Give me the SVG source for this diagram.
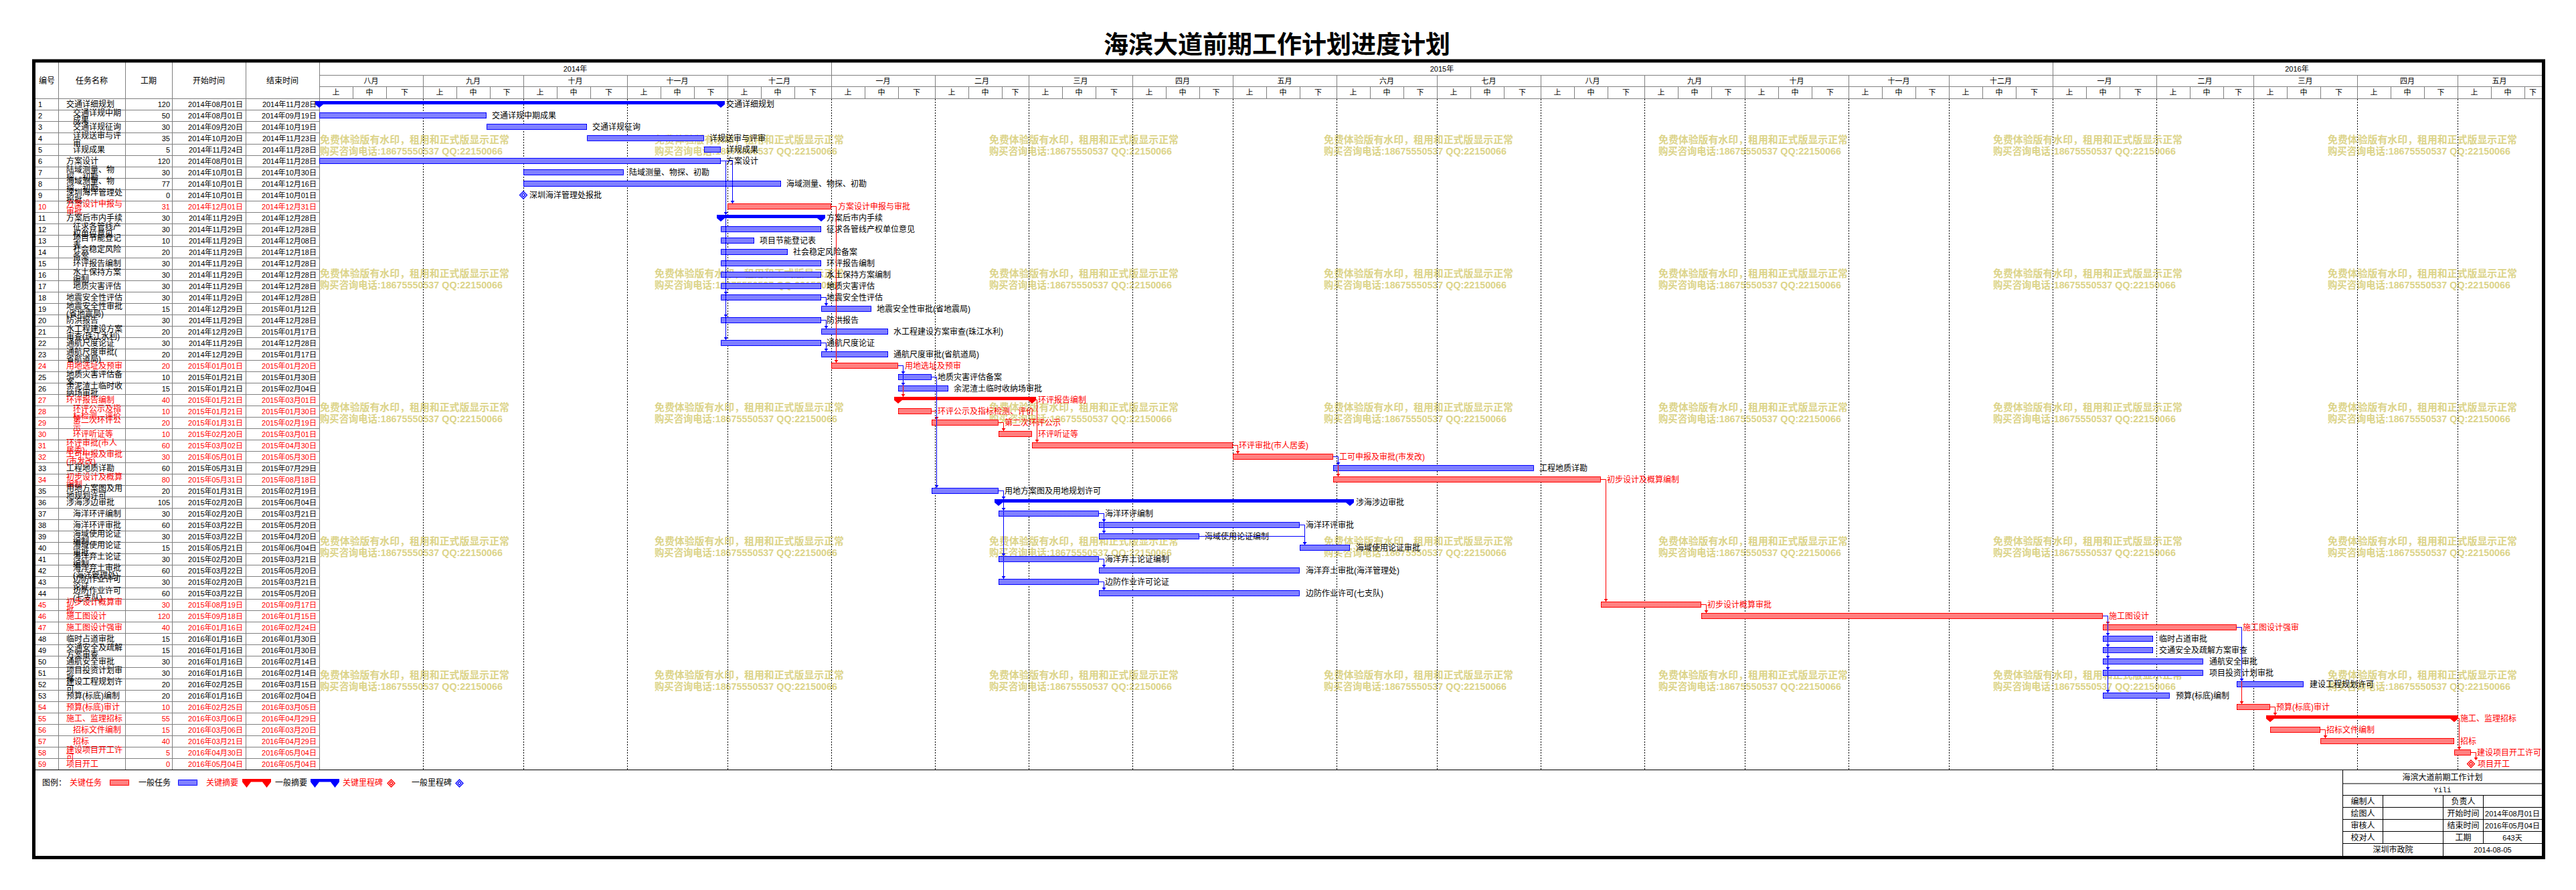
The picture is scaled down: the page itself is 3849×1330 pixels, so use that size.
<svg xmlns="http://www.w3.org/2000/svg" xmlns:xlink="http://www.w3.org/1999/xlink" width="3849" height="1330" viewBox="0 0 3849 1330">
<style>
text{font-family:'Liberation Sans','Noto Sans CJK SC',sans-serif;fill:#000;font-size:11px}
.m{font-size:12px}
.e{text-anchor:end}
.c{text-anchor:middle}
.r text{fill:#f00}
text.rd{fill:#f00}
.g{stroke:#808080;stroke-width:1;fill:none}
.k{stroke:#000;stroke-width:1;fill:none}
.dot{stroke:#000;stroke-width:1;stroke-dasharray:2 2;fill:none}
.bb{fill:url(#hb);stroke:#00f;stroke-width:1}
.rb{fill:url(#hr);stroke:#f00;stroke-width:1}
.sb{fill:#00f}
.sr{fill:#f00}
.mb{fill:#fff;stroke:#00f;stroke-width:1.3}
.mr{fill:#fff;stroke:#f00;stroke-width:1.3}
.lb{fill:none;stroke:#00f;stroke-width:1;marker-end:url(#ab)}
.lr{fill:none;stroke:#f00;stroke-width:1;marker-end:url(#ar)}
.wm{font-size:15px;font-weight:bold;fill:#DCD48A}
</style>
<defs>
<pattern id="hb" width="2" height="2" patternUnits="userSpaceOnUse"><rect width="2" height="2" fill="#fff"/><rect width="1" height="1" fill="#00f"/><rect x="1" y="1" width="1" height="1" fill="#00f"/></pattern>
<pattern id="hr" width="2" height="2" patternUnits="userSpaceOnUse"><rect width="2" height="2" fill="#fff"/><rect width="1" height="1" fill="#f00"/><rect x="1" y="1" width="1" height="1" fill="#f00"/></pattern>
<marker id="ab" viewBox="0 0 4 6" refX="4" refY="3" markerWidth="4" markerHeight="6" markerUnits="userSpaceOnUse" orient="auto"><path d="M0 0L4 3L0 6Z" fill="#00f"/></marker>
<marker id="ar" viewBox="0 0 4 6" refX="4" refY="3" markerWidth="4" markerHeight="6" markerUnits="userSpaceOnUse" orient="auto"><path d="M0 0L4 3L0 6Z" fill="#f00"/></marker>
<g id="wmk"><text class="wm" x="0" y="6" textLength="283" lengthAdjust="spacingAndGlyphs">免费体验版有水印，租用和正式版显示正常</text><text class="wm" x="0" y="22.5" textLength="273" lengthAdjust="spacingAndGlyphs">购买咨询电话:18675550537 QQ:22150066</text></g>
</defs>
<rect width="3849" height="1330" fill="#fff"/>
<g id="title"><text x="1908" y="80" class="c" style="font-size:37px;font-weight:bold">海滨大道前期工作计划进度计划</text></g>
<g id="watermark">
<use xlink:href="#wmk" x="478" y="208"/><use xlink:href="#wmk" x="978" y="208"/><use xlink:href="#wmk" x="1478" y="208"/><use xlink:href="#wmk" x="1978" y="208"/><use xlink:href="#wmk" x="2478" y="208"/><use xlink:href="#wmk" x="2978" y="208"/><use xlink:href="#wmk" x="3478" y="208"/>
<use xlink:href="#wmk" x="478" y="408"/><use xlink:href="#wmk" x="978" y="408"/><use xlink:href="#wmk" x="1478" y="408"/><use xlink:href="#wmk" x="1978" y="408"/><use xlink:href="#wmk" x="2478" y="408"/><use xlink:href="#wmk" x="2978" y="408"/><use xlink:href="#wmk" x="3478" y="408"/>
<use xlink:href="#wmk" x="478" y="608"/><use xlink:href="#wmk" x="978" y="608"/><use xlink:href="#wmk" x="1478" y="608"/><use xlink:href="#wmk" x="1978" y="608"/><use xlink:href="#wmk" x="2478" y="608"/><use xlink:href="#wmk" x="2978" y="608"/><use xlink:href="#wmk" x="3478" y="608"/>
<use xlink:href="#wmk" x="478" y="808"/><use xlink:href="#wmk" x="978" y="808"/><use xlink:href="#wmk" x="1478" y="808"/><use xlink:href="#wmk" x="1978" y="808"/><use xlink:href="#wmk" x="2478" y="808"/><use xlink:href="#wmk" x="2978" y="808"/><use xlink:href="#wmk" x="3478" y="808"/>
<use xlink:href="#wmk" x="478" y="1008"/><use xlink:href="#wmk" x="978" y="1008"/><use xlink:href="#wmk" x="1478" y="1008"/><use xlink:href="#wmk" x="1978" y="1008"/><use xlink:href="#wmk" x="2478" y="1008"/><use xlink:href="#wmk" x="2978" y="1008"/><use xlink:href="#wmk" x="3478" y="1008"/>
</g>
<g id="grid">
<path class="g" d="M53 164.5H477M53 181.5H477M53 198.5H477M53 215.5H477M53 232.5H477M53 249.5H477M53 266.5H477M53 283.5H477M53 300.5H477M53 317.5H477M53 334.5H477M53 351.5H477M53 368.5H477M53 385.5H477M53 402.5H477M53 419.5H477M53 436.5H477M53 453.5H477M53 470.5H477M53 487.5H477M53 504.5H477M53 521.5H477M53 538.5H477M53 555.5H477M53 572.5H477M53 589.5H477M53 606.5H477M53 623.5H477M53 640.5H477M53 657.5H477M53 674.5H477M53 691.5H477M53 708.5H477M53 725.5H477M53 742.5H477M53 759.5H477M53 776.5H477M53 793.5H477M53 810.5H477M53 827.5H477M53 844.5H477M53 861.5H477M53 878.5H477M53 895.5H477M53 912.5H477M53 929.5H477M53 946.5H477M53 963.5H477M53 980.5H477M53 997.5H477M53 1014.5H477M53 1031.5H477M53 1048.5H477M53 1065.5H477M53 1082.5H477M53 1099.5H477M53 1116.5H477M53 1133.5H477"/>
<path class="g" d="M87.5 93V1150M187.5 93V1150M257.5 93V1150M367.5 93V1150M477.5 93V1150M53 147.5H3798M477 112.5H3798M477 129.5H3798"/>
<path class="g" d="M1242.5 93V147M3067.5 93V147M632.5 112V147M782.5 112V147M937.5 112V147M1087.5 112V147M1397.5 112V147M1537.5 112V147M1692.5 112V147M1842.5 112V147M1997.5 112V147M2147.5 112V147M2302.5 112V147M2457.5 112V147M2607.5 112V147M2762.5 112V147M2912.5 112V147M3222.5 112V147M3367.5 112V147M3522.5 112V147M3672.5 112V147"/>
<path class="g" d="M527.5 129V147M577.5 129V147M682.5 129V147M732.5 129V147M832.5 129V147M882.5 129V147M987.5 129V147M1037.5 129V147M1137.5 129V147M1187.5 129V147M1292.5 129V147M1342.5 129V147M1447.5 129V147M1497.5 129V147M1587.5 129V147M1637.5 129V147M1742.5 129V147M1792.5 129V147M1892.5 129V147M1942.5 129V147M2047.5 129V147M2097.5 129V147M2197.5 129V147M2247.5 129V147M2352.5 129V147M2402.5 129V147M2507.5 129V147M2557.5 129V147M2657.5 129V147M2707.5 129V147M2812.5 129V147M2862.5 129V147M2962.5 129V147M3012.5 129V147M3117.5 129V147M3167.5 129V147M3272.5 129V147M3322.5 129V147M3417.5 129V147M3467.5 129V147M3572.5 129V147M3622.5 129V147M3722.5 129V147M3772.5 129V147"/>
<path class="dot" d="M632.5 148V1150M782.5 148V1150M937.5 148V1150M1087.5 148V1150M1242.5 148V1150M1397.5 148V1150M1537.5 148V1150M1692.5 148V1150M1842.5 148V1150M1997.5 148V1150M2147.5 148V1150M2302.5 148V1150M2457.5 148V1150M2607.5 148V1150M2762.5 148V1150M2912.5 148V1150M3067.5 148V1150M3222.5 148V1150M3367.5 148V1150M3522.5 148V1150M3672.5 148V1150"/>
<path class="k" d="M53 1150.5H3798"/>
</g>
<g id="table-header">
<text class="m c" x="70" y="124.5">编号</text><text class="m c" x="137" y="124.5">任务名称</text><text class="m c" x="222" y="124.5">工期</text><text class="m c" x="312" y="124.5">开始时间</text><text class="m c" x="422" y="124.5">结束时间</text>
</g>
<g id="timescale" class="c">
<text class="c" x="859.5" y="106.5">2014年</text><text class="c" x="2154.5" y="106.5">2015年</text><text class="c" x="3432" y="106.5">2016年</text>
<text class="c" x="554.5" y="124.5">八月</text><text class="c" x="707" y="124.5">九月</text><text class="c" x="859.5" y="124.5">十月</text><text class="c" x="1012" y="124.5">十一月</text><text class="c" x="1164.5" y="124.5">十二月</text><text class="c" x="1319.5" y="124.5">一月</text><text class="c" x="1467" y="124.5">二月</text><text class="c" x="1614.5" y="124.5">三月</text><text class="c" x="1767" y="124.5">四月</text><text class="c" x="1919.5" y="124.5">五月</text><text class="c" x="2072" y="124.5">六月</text><text class="c" x="2224.5" y="124.5">七月</text><text class="c" x="2379.5" y="124.5">八月</text><text class="c" x="2532" y="124.5">九月</text><text class="c" x="2684.5" y="124.5">十月</text><text class="c" x="2837" y="124.5">十一月</text><text class="c" x="2989.5" y="124.5">十二月</text><text class="c" x="3144.5" y="124.5">一月</text><text class="c" x="3294.5" y="124.5">二月</text><text class="c" x="3444.5" y="124.5">三月</text><text class="c" x="3597" y="124.5">四月</text><text class="c" x="3734.5" y="124.5">五月</text>
<text class="c" x="502" y="142">上</text><text class="c" x="552" y="142">中</text><text class="c" x="604.5" y="142">下</text>
<text class="c" x="657" y="142">上</text><text class="c" x="707" y="142">中</text><text class="c" x="757" y="142">下</text>
<text class="c" x="807" y="142">上</text><text class="c" x="857" y="142">中</text><text class="c" x="909.5" y="142">下</text>
<text class="c" x="962" y="142">上</text><text class="c" x="1012" y="142">中</text><text class="c" x="1062" y="142">下</text>
<text class="c" x="1112" y="142">上</text><text class="c" x="1162" y="142">中</text><text class="c" x="1214.5" y="142">下</text>
<text class="c" x="1267" y="142">上</text><text class="c" x="1317" y="142">中</text><text class="c" x="1369.5" y="142">下</text>
<text class="c" x="1422" y="142">上</text><text class="c" x="1472" y="142">中</text><text class="c" x="1517" y="142">下</text>
<text class="c" x="1562" y="142">上</text><text class="c" x="1612" y="142">中</text><text class="c" x="1664.5" y="142">下</text>
<text class="c" x="1717" y="142">上</text><text class="c" x="1767" y="142">中</text><text class="c" x="1817" y="142">下</text>
<text class="c" x="1867" y="142">上</text><text class="c" x="1917" y="142">中</text><text class="c" x="1969.5" y="142">下</text>
<text class="c" x="2022" y="142">上</text><text class="c" x="2072" y="142">中</text><text class="c" x="2122" y="142">下</text>
<text class="c" x="2172" y="142">上</text><text class="c" x="2222" y="142">中</text><text class="c" x="2274.5" y="142">下</text>
<text class="c" x="2327" y="142">上</text><text class="c" x="2377" y="142">中</text><text class="c" x="2429.5" y="142">下</text>
<text class="c" x="2482" y="142">上</text><text class="c" x="2532" y="142">中</text><text class="c" x="2582" y="142">下</text>
<text class="c" x="2632" y="142">上</text><text class="c" x="2682" y="142">中</text><text class="c" x="2734.5" y="142">下</text>
<text class="c" x="2787" y="142">上</text><text class="c" x="2837" y="142">中</text><text class="c" x="2887" y="142">下</text>
<text class="c" x="2937" y="142">上</text><text class="c" x="2987" y="142">中</text><text class="c" x="3039.5" y="142">下</text>
<text class="c" x="3092" y="142">上</text><text class="c" x="3142" y="142">中</text><text class="c" x="3194.5" y="142">下</text>
<text class="c" x="3247" y="142">上</text><text class="c" x="3297" y="142">中</text><text class="c" x="3344.5" y="142">下</text>
<text class="c" x="3392" y="142">上</text><text class="c" x="3442" y="142">中</text><text class="c" x="3494.5" y="142">下</text>
<text class="c" x="3547" y="142">上</text><text class="c" x="3597" y="142">中</text><text class="c" x="3647" y="142">下</text>
<text class="c" x="3697" y="142">上</text><text class="c" x="3747" y="142">中</text><text class="c" x="3784.5" y="142">下</text>
</g>
<g id="tasks">
<g id="task-1" transform="translate(0,147)"><text x="57" y="12.8">1</text><text class="m" x="99" y="13">交通详细规划</text><text class="e" x="254" y="12.8">120</text><text class="e" x="363" y="12.8">2014年08月01日</text><text class="e" x="473" y="12.8">2014年11月28日</text><path class="sb" d="M471 4H1083V9L1077 14L1071 9H483L477 14L471 9Z"/><text class="m" x="1085" y="13">交通详细规划</text></g>
<g id="task-2" transform="translate(0,164)"><text x="57" y="12.8">2</text><text class="m" x="109" y="8.5">交通详规中期</text><text class="m" x="109" y="20">成果</text><text class="e" x="254" y="12.8">50</text><text class="e" x="363" y="12.8">2014年08月01日</text><text class="e" x="473" y="12.8">2014年09月19日</text><rect class="bb" x="477.5" y="4.5" width="249" height="8"/><text class="m" x="735" y="13">交通详规中期成果</text></g>
<g id="task-3" transform="translate(0,181)"><text x="57" y="12.8">3</text><text class="m" x="109" y="13">交通详规征询</text><text class="e" x="254" y="12.8">30</text><text class="e" x="363" y="12.8">2014年09月20日</text><text class="e" x="473" y="12.8">2014年10月19日</text><rect class="bb" x="727.5" y="4.5" width="149" height="8"/><text class="m" x="885" y="13">交通详规征询</text></g>
<g id="task-4" transform="translate(0,198)"><text x="57" y="12.8">4</text><text class="m" x="109" y="8.5">详规送审与评</text><text class="m" x="109" y="20">审</text><text class="e" x="254" y="12.8">35</text><text class="e" x="363" y="12.8">2014年10月20日</text><text class="e" x="473" y="12.8">2014年11月23日</text><rect class="bb" x="877.5" y="4.5" width="174" height="8"/><text class="m" x="1060" y="13">详规送审与评审</text></g>
<g id="task-5" transform="translate(0,215)"><text x="57" y="12.8">5</text><text class="m" x="109" y="13">详规成果</text><text class="e" x="254" y="12.8">5</text><text class="e" x="363" y="12.8">2014年11月24日</text><text class="e" x="473" y="12.8">2014年11月28日</text><rect class="bb" x="1052.5" y="4.5" width="24" height="8"/><text class="m" x="1085" y="13">详规成果</text></g>
<g id="task-6" transform="translate(0,232)"><text x="57" y="12.8">6</text><text class="m" x="99" y="13">方案设计</text><text class="e" x="254" y="12.8">120</text><text class="e" x="363" y="12.8">2014年08月01日</text><text class="e" x="473" y="12.8">2014年11月28日</text><rect class="bb" x="477.5" y="4.5" width="599" height="8"/><text class="m" x="1085" y="13">方案设计</text></g>
<g id="task-7" transform="translate(0,249)"><text x="57" y="12.8">7</text><text class="m" x="99" y="8.5">陆域测量、物</text><text class="m" x="99" y="20">探、初勘</text><text class="e" x="254" y="12.8">30</text><text class="e" x="363" y="12.8">2014年10月01日</text><text class="e" x="473" y="12.8">2014年10月30日</text><rect class="bb" x="782.5" y="4.5" width="149" height="8"/><text class="m" x="940" y="13">陆域测量、物探、初勘</text></g>
<g id="task-8" transform="translate(0,266)"><text x="57" y="12.8">8</text><text class="m" x="99" y="8.5">海域测量、物</text><text class="m" x="99" y="20">探、初勘</text><text class="e" x="254" y="12.8">77</text><text class="e" x="363" y="12.8">2014年10月01日</text><text class="e" x="473" y="12.8">2014年12月16日</text><rect class="bb" x="782.5" y="4.5" width="384" height="8"/><text class="m" x="1175" y="13">海域测量、物探、初勘</text></g>
<g id="task-9" transform="translate(0,283)"><text x="57" y="12.8">9</text><text class="m" x="99" y="8.5">深圳海洋管理处</text><text class="m" x="99" y="20">报批</text><text class="e" x="254" y="12.8">0</text><text class="e" x="363" y="12.8">2014年10月01日</text><text class="e" x="473" y="12.8">2014年10月01日</text><path class="mb" d="M782 3L787.5 8.5L782 14L776.5 8.5Z"/><path class="mb" d="M782 6L784.5 8.5L782 11L779.5 8.5Z"/><text class="m" x="791" y="13">深圳海洋管理处报批</text></g>
<g id="task-10" class="r" transform="translate(0,300)"><text x="57" y="12.8">10</text><text class="m" x="99" y="8.5">方案设计申报与</text><text class="m" x="99" y="20">审批</text><text class="e" x="254" y="12.8">31</text><text class="e" x="363" y="12.8">2014年12月01日</text><text class="e" x="473" y="12.8">2014年12月31日</text><rect class="rb" x="1087.5" y="4.5" width="154" height="8"/><text class="m" x="1252" y="13">方案设计申报与审批</text></g>
<g id="task-11" transform="translate(0,317)"><text x="57" y="12.8">11</text><text class="m" x="99" y="13">方案后市内手续</text><text class="e" x="254" y="12.8">30</text><text class="e" x="363" y="12.8">2014年11月29日</text><text class="e" x="473" y="12.8">2014年12月28日</text><path class="sb" d="M1071 4H1233V9L1227 14L1221 9H1083L1077 14L1071 9Z"/><text class="m" x="1235" y="13">方案后市内手续</text></g>
<g id="task-12" transform="translate(0,334)"><text x="57" y="12.8">12</text><text class="m" x="109" y="8.5">征求各管线产</text><text class="m" x="109" y="20">权单位意见</text><text class="e" x="254" y="12.8">30</text><text class="e" x="363" y="12.8">2014年11月29日</text><text class="e" x="473" y="12.8">2014年12月28日</text><rect class="bb" x="1077.5" y="4.5" width="149" height="8"/><text class="m" x="1235" y="13">征求各管线产权单位意见</text></g>
<g id="task-13" transform="translate(0,351)"><text x="57" y="12.8">13</text><text class="m" x="109" y="8.5">项目节能登记</text><text class="m" x="109" y="20">表</text><text class="e" x="254" y="12.8">10</text><text class="e" x="363" y="12.8">2014年11月29日</text><text class="e" x="473" y="12.8">2014年12月08日</text><rect class="bb" x="1077.5" y="4.5" width="49" height="8"/><text class="m" x="1135" y="13">项目节能登记表</text></g>
<g id="task-14" transform="translate(0,368)"><text x="57" y="12.8">14</text><text class="m" x="109" y="8.5">社会稳定风险</text><text class="m" x="109" y="20">备案</text><text class="e" x="254" y="12.8">20</text><text class="e" x="363" y="12.8">2014年11月29日</text><text class="e" x="473" y="12.8">2014年12月18日</text><rect class="bb" x="1077.5" y="4.5" width="99" height="8"/><text class="m" x="1185" y="13">社会稳定风险备案</text></g>
<g id="task-15" transform="translate(0,385)"><text x="57" y="12.8">15</text><text class="m" x="109" y="13">环评报告编制</text><text class="e" x="254" y="12.8">30</text><text class="e" x="363" y="12.8">2014年11月29日</text><text class="e" x="473" y="12.8">2014年12月28日</text><rect class="bb" x="1077.5" y="4.5" width="149" height="8"/><text class="m" x="1235" y="13">环评报告编制</text></g>
<g id="task-16" transform="translate(0,402)"><text x="57" y="12.8">16</text><text class="m" x="109" y="8.5">水土保持方案</text><text class="m" x="109" y="20">编制</text><text class="e" x="254" y="12.8">30</text><text class="e" x="363" y="12.8">2014年11月29日</text><text class="e" x="473" y="12.8">2014年12月28日</text><rect class="bb" x="1077.5" y="4.5" width="149" height="8"/><text class="m" x="1235" y="13">水土保持方案编制</text></g>
<g id="task-17" transform="translate(0,419)"><text x="57" y="12.8">17</text><text class="m" x="109" y="13">地质灾害评估</text><text class="e" x="254" y="12.8">30</text><text class="e" x="363" y="12.8">2014年11月29日</text><text class="e" x="473" y="12.8">2014年12月28日</text><rect class="bb" x="1077.5" y="4.5" width="149" height="8"/><text class="m" x="1235" y="13">地质灾害评估</text></g>
<g id="task-18" transform="translate(0,436)"><text x="57" y="12.8">18</text><text class="m" x="99" y="13">地震安全性评估</text><text class="e" x="254" y="12.8">30</text><text class="e" x="363" y="12.8">2014年11月29日</text><text class="e" x="473" y="12.8">2014年12月28日</text><rect class="bb" x="1077.5" y="4.5" width="149" height="8"/><text class="m" x="1235" y="13">地震安全性评估</text></g>
<g id="task-19" transform="translate(0,453)"><text x="57" y="12.8">19</text><text class="m" x="99" y="8.5">地震安全性审批</text><text class="m" x="99" y="20">(省地震局)</text><text class="e" x="254" y="12.8">15</text><text class="e" x="363" y="12.8">2014年12月29日</text><text class="e" x="473" y="12.8">2015年01月12日</text><rect class="bb" x="1227.5" y="4.5" width="74" height="8"/><text class="m" x="1310" y="13">地震安全性审批(省地震局)</text></g>
<g id="task-20" transform="translate(0,470)"><text x="57" y="12.8">20</text><text class="m" x="99" y="13">防洪报告</text><text class="e" x="254" y="12.8">30</text><text class="e" x="363" y="12.8">2014年11月29日</text><text class="e" x="473" y="12.8">2014年12月28日</text><rect class="bb" x="1077.5" y="4.5" width="149" height="8"/><text class="m" x="1235" y="13">防洪报告</text></g>
<g id="task-21" transform="translate(0,487)"><text x="57" y="12.8">21</text><text class="m" x="99" y="8.5">水工程建设方案</text><text class="m" x="99" y="20">审查(珠江水利)</text><text class="e" x="254" y="12.8">20</text><text class="e" x="363" y="12.8">2014年12月29日</text><text class="e" x="473" y="12.8">2015年01月17日</text><rect class="bb" x="1227.5" y="4.5" width="99" height="8"/><text class="m" x="1335" y="13">水工程建设方案审查(珠江水利)</text></g>
<g id="task-22" transform="translate(0,504)"><text x="57" y="12.8">22</text><text class="m" x="99" y="13">通航尺度论证</text><text class="e" x="254" y="12.8">30</text><text class="e" x="363" y="12.8">2014年11月29日</text><text class="e" x="473" y="12.8">2014年12月28日</text><rect class="bb" x="1077.5" y="4.5" width="149" height="8"/><text class="m" x="1235" y="13">通航尺度论证</text></g>
<g id="task-23" transform="translate(0,521)"><text x="57" y="12.8">23</text><text class="m" x="99" y="8.5">通航尺度审批(</text><text class="m" x="99" y="20">省航道局)</text><text class="e" x="254" y="12.8">20</text><text class="e" x="363" y="12.8">2014年12月29日</text><text class="e" x="473" y="12.8">2015年01月17日</text><rect class="bb" x="1227.5" y="4.5" width="99" height="8"/><text class="m" x="1335" y="13">通航尺度审批(省航道局)</text></g>
<g id="task-24" class="r" transform="translate(0,538)"><text x="57" y="12.8">24</text><text class="m" x="99" y="13">用地选址及预审</text><text class="e" x="254" y="12.8">20</text><text class="e" x="363" y="12.8">2015年01月01日</text><text class="e" x="473" y="12.8">2015年01月20日</text><rect class="rb" x="1242.5" y="4.5" width="99" height="8"/><text class="m" x="1352" y="13">用地选址及预审</text></g>
<g id="task-25" transform="translate(0,555)"><text x="57" y="12.8">25</text><text class="m" x="99" y="8.5">地质灾害评估备</text><text class="m" x="99" y="20">案</text><text class="e" x="254" y="12.8">10</text><text class="e" x="363" y="12.8">2015年01月21日</text><text class="e" x="473" y="12.8">2015年01月30日</text><rect class="bb" x="1342.5" y="4.5" width="49" height="8"/><text class="m" x="1401" y="13">地质灾害评估备案</text></g>
<g id="task-26" transform="translate(0,572)"><text x="57" y="12.8">26</text><text class="m" x="99" y="8.5">余泥渣土临时收</text><text class="m" x="99" y="20">纳场审批</text><text class="e" x="254" y="12.8">15</text><text class="e" x="363" y="12.8">2015年01月21日</text><text class="e" x="473" y="12.8">2015年02月04日</text><rect class="bb" x="1342.5" y="4.5" width="74" height="8"/><text class="m" x="1425" y="13">余泥渣土临时收纳场审批</text></g>
<g id="task-27" class="r" transform="translate(0,589)"><text x="57" y="12.8">27</text><text class="m" x="99" y="13">环评报告编制</text><text class="e" x="254" y="12.8">40</text><text class="e" x="363" y="12.8">2015年01月21日</text><text class="e" x="473" y="12.8">2015年03月01日</text><path class="sr" d="M1336 4H1548V9L1542 14L1536 9H1348L1342 14L1336 9Z"/><text class="m" x="1551" y="13">环评报告编制</text></g>
<g id="task-28" class="r" transform="translate(0,606)"><text x="57" y="12.8">28</text><text class="m" x="109" y="8.5">环评公示及指</text><text class="m" x="109" y="20">标检测、评价</text><text class="e" x="254" y="12.8">10</text><text class="e" x="363" y="12.8">2015年01月21日</text><text class="e" x="473" y="12.8">2015年01月30日</text><rect class="rb" x="1342.5" y="4.5" width="49" height="8"/><text class="m" x="1401" y="13">环评公示及指标检测、评价</text></g>
<g id="task-29" class="r" transform="translate(0,623)"><text x="57" y="12.8">29</text><text class="m" x="109" y="8.5">第二次环评公</text><text class="m" x="109" y="20">示</text><text class="e" x="254" y="12.8">20</text><text class="e" x="363" y="12.8">2015年01月31日</text><text class="e" x="473" y="12.8">2015年02月19日</text><rect class="rb" x="1392.5" y="4.5" width="99" height="8"/><text class="m" x="1501" y="13">第二次环评公示</text></g>
<g id="task-30" class="r" transform="translate(0,640)"><text x="57" y="12.8">30</text><text class="m" x="109" y="13">环评听证等</text><text class="e" x="254" y="12.8">10</text><text class="e" x="363" y="12.8">2015年02月20日</text><text class="e" x="473" y="12.8">2015年03月01日</text><rect class="rb" x="1492.5" y="4.5" width="49" height="8"/><text class="m" x="1551" y="13">环评听证等</text></g>
<g id="task-31" class="r" transform="translate(0,657)"><text x="57" y="12.8">31</text><text class="m" x="99" y="8.5">环评审批(市人</text><text class="m" x="99" y="20">居委)</text><text class="e" x="254" y="12.8">60</text><text class="e" x="363" y="12.8">2015年03月02日</text><text class="e" x="473" y="12.8">2015年04月30日</text><rect class="rb" x="1542.5" y="4.5" width="299" height="8"/><text class="m" x="1851" y="13">环评审批(市人居委)</text></g>
<g id="task-32" class="r" transform="translate(0,674)"><text x="57" y="12.8">32</text><text class="m" x="99" y="8.5">工可申报及审批</text><text class="m" x="99" y="20">(市发改)</text><text class="e" x="254" y="12.8">30</text><text class="e" x="363" y="12.8">2015年05月01日</text><text class="e" x="473" y="12.8">2015年05月30日</text><rect class="rb" x="1842.5" y="4.5" width="149" height="8"/><text class="m" x="2001" y="13">工可申报及审批(市发改)</text></g>
<g id="task-33" transform="translate(0,691)"><text x="57" y="12.8">33</text><text class="m" x="99" y="13">工程地质详勘</text><text class="e" x="254" y="12.8">60</text><text class="e" x="363" y="12.8">2015年05月31日</text><text class="e" x="473" y="12.8">2015年07月29日</text><rect class="bb" x="1992.5" y="4.5" width="299" height="8"/><text class="m" x="2300" y="13">工程地质详勘</text></g>
<g id="task-34" class="r" transform="translate(0,708)"><text x="57" y="12.8">34</text><text class="m" x="99" y="8.5">初步设计及概算</text><text class="m" x="99" y="20">编制</text><text class="e" x="254" y="12.8">80</text><text class="e" x="363" y="12.8">2015年05月31日</text><text class="e" x="473" y="12.8">2015年08月18日</text><rect class="rb" x="1992.5" y="4.5" width="399" height="8"/><text class="m" x="2401" y="13">初步设计及概算编制</text></g>
<g id="task-35" transform="translate(0,725)"><text x="57" y="12.8">35</text><text class="m" x="99" y="8.5">用地方案图及用</text><text class="m" x="99" y="20">地规划许可</text><text class="e" x="254" y="12.8">20</text><text class="e" x="363" y="12.8">2015年01月31日</text><text class="e" x="473" y="12.8">2015年02月19日</text><rect class="bb" x="1392.5" y="4.5" width="99" height="8"/><text class="m" x="1501" y="13">用地方案图及用地规划许可</text></g>
<g id="task-36" transform="translate(0,742)"><text x="57" y="12.8">36</text><text class="m" x="99" y="13">涉海涉边审批</text><text class="e" x="254" y="12.8">105</text><text class="e" x="363" y="12.8">2015年02月20日</text><text class="e" x="473" y="12.8">2015年06月04日</text><path class="sb" d="M1486 4H2023V9L2017 14L2011 9H1498L1492 14L1486 9Z"/><text class="m" x="2026" y="13">涉海涉边审批</text></g>
<g id="task-37" transform="translate(0,759)"><text x="57" y="12.8">37</text><text class="m" x="109" y="13">海洋环评编制</text><text class="e" x="254" y="12.8">30</text><text class="e" x="363" y="12.8">2015年02月20日</text><text class="e" x="473" y="12.8">2015年03月21日</text><rect class="bb" x="1492.5" y="4.5" width="149" height="8"/><text class="m" x="1651" y="13">海洋环评编制</text></g>
<g id="task-38" transform="translate(0,776)"><text x="57" y="12.8">38</text><text class="m" x="109" y="13">海洋环评审批</text><text class="e" x="254" y="12.8">60</text><text class="e" x="363" y="12.8">2015年03月22日</text><text class="e" x="473" y="12.8">2015年05月20日</text><rect class="bb" x="1642.5" y="4.5" width="299" height="8"/><text class="m" x="1951" y="13">海洋环评审批</text></g>
<g id="task-39" transform="translate(0,793)"><text x="57" y="12.8">39</text><text class="m" x="109" y="8.5">海域使用论证</text><text class="m" x="109" y="20">编制</text><text class="e" x="254" y="12.8">30</text><text class="e" x="363" y="12.8">2015年03月22日</text><text class="e" x="473" y="12.8">2015年04月20日</text><rect class="bb" x="1642.5" y="4.5" width="149" height="8"/><text class="m" x="1800" y="13">海域使用论证编制</text></g>
<g id="task-40" transform="translate(0,810)"><text x="57" y="12.8">40</text><text class="m" x="109" y="8.5">海域使用论证</text><text class="m" x="109" y="20">审批</text><text class="e" x="254" y="12.8">15</text><text class="e" x="363" y="12.8">2015年05月21日</text><text class="e" x="473" y="12.8">2015年06月04日</text><rect class="bb" x="1942.5" y="4.5" width="74" height="8"/><text class="m" x="2026" y="13">海域使用论证审批</text></g>
<g id="task-41" transform="translate(0,827)"><text x="57" y="12.8">41</text><text class="m" x="109" y="8.5">海洋弃土论证</text><text class="m" x="109" y="20">编制</text><text class="e" x="254" y="12.8">30</text><text class="e" x="363" y="12.8">2015年02月20日</text><text class="e" x="473" y="12.8">2015年03月21日</text><rect class="bb" x="1492.5" y="4.5" width="149" height="8"/><text class="m" x="1651" y="13">海洋弃土论证编制</text></g>
<g id="task-42" transform="translate(0,844)"><text x="57" y="12.8">42</text><text class="m" x="109" y="8.5">海洋弃土审批</text><text class="m" x="109" y="20">(海洋管理处)</text><text class="e" x="254" y="12.8">60</text><text class="e" x="363" y="12.8">2015年03月22日</text><text class="e" x="473" y="12.8">2015年05月20日</text><rect class="bb" x="1642.5" y="4.5" width="299" height="8"/><text class="m" x="1951" y="13">海洋弃土审批(海洋管理处)</text></g>
<g id="task-43" transform="translate(0,861)"><text x="57" y="12.8">43</text><text class="m" x="109" y="8.5">边防作业许可</text><text class="m" x="109" y="20">论证</text><text class="e" x="254" y="12.8">30</text><text class="e" x="363" y="12.8">2015年02月20日</text><text class="e" x="473" y="12.8">2015年03月21日</text><rect class="bb" x="1492.5" y="4.5" width="149" height="8"/><text class="m" x="1651" y="13">边防作业许可论证</text></g>
<g id="task-44" transform="translate(0,878)"><text x="57" y="12.8">44</text><text class="m" x="109" y="8.5">边防作业许可</text><text class="m" x="109" y="20">(七支队)</text><text class="e" x="254" y="12.8">60</text><text class="e" x="363" y="12.8">2015年03月22日</text><text class="e" x="473" y="12.8">2015年05月20日</text><rect class="bb" x="1642.5" y="4.5" width="299" height="8"/><text class="m" x="1951" y="13">边防作业许可(七支队)</text></g>
<g id="task-45" class="r" transform="translate(0,895)"><text x="57" y="12.8">45</text><text class="m" x="99" y="8.5">初步设计概算审</text><text class="m" x="99" y="20">批</text><text class="e" x="254" y="12.8">30</text><text class="e" x="363" y="12.8">2015年08月19日</text><text class="e" x="473" y="12.8">2015年09月17日</text><rect class="rb" x="2392.5" y="4.5" width="149" height="8"/><text class="m" x="2551" y="13">初步设计概算审批</text></g>
<g id="task-46" class="r" transform="translate(0,912)"><text x="57" y="12.8">46</text><text class="m" x="99" y="13">施工图设计</text><text class="e" x="254" y="12.8">120</text><text class="e" x="363" y="12.8">2015年09月18日</text><text class="e" x="473" y="12.8">2016年01月15日</text><rect class="rb" x="2542.5" y="4.5" width="599" height="8"/><text class="m" x="3151" y="13">施工图设计</text></g>
<g id="task-47" class="r" transform="translate(0,929)"><text x="57" y="12.8">47</text><text class="m" x="99" y="13">施工图设计强审</text><text class="e" x="254" y="12.8">40</text><text class="e" x="363" y="12.8">2016年01月16日</text><text class="e" x="473" y="12.8">2016年02月24日</text><rect class="rb" x="3142.5" y="4.5" width="199" height="8"/><text class="m" x="3351" y="13">施工图设计强审</text></g>
<g id="task-48" transform="translate(0,946)"><text x="57" y="12.8">48</text><text class="m" x="99" y="13">临时占道审批</text><text class="e" x="254" y="12.8">15</text><text class="e" x="363" y="12.8">2016年01月16日</text><text class="e" x="473" y="12.8">2016年01月30日</text><rect class="bb" x="3142.5" y="4.5" width="74" height="8"/><text class="m" x="3226" y="13">临时占道审批</text></g>
<g id="task-49" transform="translate(0,963)"><text x="57" y="12.8">49</text><text class="m" x="99" y="8.5">交通安全及疏解</text><text class="m" x="99" y="20">方案审查</text><text class="e" x="254" y="12.8">15</text><text class="e" x="363" y="12.8">2016年01月16日</text><text class="e" x="473" y="12.8">2016年01月30日</text><rect class="bb" x="3142.5" y="4.5" width="74" height="8"/><text class="m" x="3226" y="13">交通安全及疏解方案审查</text></g>
<g id="task-50" transform="translate(0,980)"><text x="57" y="12.8">50</text><text class="m" x="99" y="13">通航安全审批</text><text class="e" x="254" y="12.8">30</text><text class="e" x="363" y="12.8">2016年01月16日</text><text class="e" x="473" y="12.8">2016年02月14日</text><rect class="bb" x="3142.5" y="4.5" width="149" height="8"/><text class="m" x="3301" y="13">通航安全审批</text></g>
<g id="task-51" transform="translate(0,997)"><text x="57" y="12.8">51</text><text class="m" x="99" y="8.5">项目投资计划审</text><text class="m" x="99" y="20">批</text><text class="e" x="254" y="12.8">30</text><text class="e" x="363" y="12.8">2016年01月16日</text><text class="e" x="473" y="12.8">2016年02月14日</text><rect class="bb" x="3142.5" y="4.5" width="149" height="8"/><text class="m" x="3301" y="13">项目投资计划审批</text></g>
<g id="task-52" transform="translate(0,1014)"><text x="57" y="12.8">52</text><text class="m" x="99" y="8.5">建设工程规划许</text><text class="m" x="99" y="20">可</text><text class="e" x="254" y="12.8">20</text><text class="e" x="363" y="12.8">2016年02月25日</text><text class="e" x="473" y="12.8">2016年03月15日</text><rect class="bb" x="3342.5" y="4.5" width="99" height="8"/><text class="m" x="3451" y="13">建设工程规划许可</text></g>
<g id="task-53" transform="translate(0,1031)"><text x="57" y="12.8">53</text><text class="m" x="99" y="13">预算(标底)编制</text><text class="e" x="254" y="12.8">20</text><text class="e" x="363" y="12.8">2016年01月16日</text><text class="e" x="473" y="12.8">2016年02月04日</text><rect class="bb" x="3142.5" y="4.5" width="99" height="8"/><text class="m" x="3251" y="13">预算(标底)编制</text></g>
<g id="task-54" class="r" transform="translate(0,1048)"><text x="57" y="12.8">54</text><text class="m" x="99" y="13">预算(标底)审计</text><text class="e" x="254" y="12.8">10</text><text class="e" x="363" y="12.8">2016年02月25日</text><text class="e" x="473" y="12.8">2016年03月05日</text><rect class="rb" x="3342.5" y="4.5" width="49" height="8"/><text class="m" x="3401" y="13">预算(标底)审计</text></g>
<g id="task-55" class="r" transform="translate(0,1065)"><text x="57" y="12.8">55</text><text class="m" x="99" y="13">施工、监理招标</text><text class="e" x="254" y="12.8">55</text><text class="e" x="363" y="12.8">2016年03月06日</text><text class="e" x="473" y="12.8">2016年04月29日</text><path class="sr" d="M3386 4H3673V9L3667 14L3661 9H3398L3392 14L3386 9Z"/><text class="m" x="3676" y="13">施工、监理招标</text></g>
<g id="task-56" class="r" transform="translate(0,1082)"><text x="57" y="12.8">56</text><text class="m" x="109" y="13">招标文件编制</text><text class="e" x="254" y="12.8">15</text><text class="e" x="363" y="12.8">2016年03月06日</text><text class="e" x="473" y="12.8">2016年03月20日</text><rect class="rb" x="3392.5" y="4.5" width="74" height="8"/><text class="m" x="3476" y="13">招标文件编制</text></g>
<g id="task-57" class="r" transform="translate(0,1099)"><text x="57" y="12.8">57</text><text class="m" x="109" y="13">招标</text><text class="e" x="254" y="12.8">40</text><text class="e" x="363" y="12.8">2016年03月21日</text><text class="e" x="473" y="12.8">2016年04月29日</text><rect class="rb" x="3467.5" y="4.5" width="199" height="8"/><text class="m" x="3676" y="13">招标</text></g>
<g id="task-58" class="r" transform="translate(0,1116)"><text x="57" y="12.8">58</text><text class="m" x="99" y="8.5">建设项目开工许</text><text class="m" x="99" y="20">可</text><text class="e" x="254" y="12.8">5</text><text class="e" x="363" y="12.8">2016年04月30日</text><text class="e" x="473" y="12.8">2016年05月04日</text><rect class="rb" x="3667.5" y="4.5" width="24" height="8"/><text class="m" x="3701" y="13">建设项目开工许可</text></g>
<g id="task-59" class="r" transform="translate(0,1133)"><text x="57" y="12.8">59</text><text class="m" x="99" y="13">项目开工</text><text class="e" x="254" y="12.8">0</text><text class="e" x="363" y="12.8">2016年05月04日</text><text class="e" x="473" y="12.8">2016年05月04日</text><path class="mr" d="M3692 3L3697.5 8.5L3692 14L3686.5 8.5Z"/><path class="mr" d="M3692 6L3694.5 8.5L3692 11L3689.5 8.5Z"/><text class="m" x="3702" y="13">项目开工</text></g>
</g>
<g id="connectors">
<path class="lr" d="M1242 308.5H1249.5V542"/>
<path class="lr" d="M1342 546.5H1349.5V593"/>
<path class="lr" d="M1392 614.5H1399.5V627"/>
<path class="lr" d="M1492 631.5H1499.5V644"/>
<path class="lr" d="M1542 597.5H1549.5V661"/>
<path class="lr" d="M1842 665.5H1849.5V678"/>
<path class="lr" d="M1992 682.5H1999.5V712"/>
<path class="lr" d="M2392 716.5H2399.5V899"/>
<path class="lr" d="M2542 903.5H2549.5V916"/>
<path class="lr" d="M3142 920.5H3149.5V933"/>
<path class="lr" d="M3342 937.5H3349.5V1052"/>
<path class="lr" d="M3392 1056.5H3399.5V1069"/>
<path class="lr" d="M3467 1090.5H3474.5V1103"/>
<path class="lr" d="M3667 1073.5H3674.5V1120"/>
<path class="lr" d="M3692 1124.5H3699.5V1136"/>
<path class="lb" d="M1077 240.5H1094.5V304"/>
<path class="lb" d="M1077 240.5H1084.5V321"/>
<path class="lb" d="M1077 240.5H1084.5V440"/>
<path class="lb" d="M1077 240.5H1084.5V474"/>
<path class="lb" d="M1077 240.5H1084.5V508"/>
<path class="lb" d="M1227 444.5H1234.5V457"/>
<path class="lb" d="M1227 478.5H1234.5V491"/>
<path class="lb" d="M1227 512.5H1234.5V525"/>
<path class="lb" d="M1342 546.5H1349.5V559"/>
<path class="lb" d="M1342 546.5H1349.5V576"/>
<path class="lb" d="M1392 563.5H1399.5V729"/>
<path class="lb" d="M1992 682.5H1999.5V695"/>
<path class="lb" d="M1492 733.5H1499.5V746"/>
<path class="lb" d="M1492 733.5H1499.5V763"/>
<path class="lb" d="M1492 733.5H1499.5V831"/>
<path class="lb" d="M1492 733.5H1499.5V865"/>
<path class="lb" d="M1642 767.5H1649.5V780"/>
<path class="lb" d="M1642 767.5H1649.5V797"/>
<path class="lb" d="M1942 784.5H1949.5V814"/>
<path class="lb" d="M1792 801.5H1949.5V814"/>
<path class="lb" d="M1642 835.5H1649.5V848"/>
<path class="lb" d="M1642 869.5H1649.5V882"/>
<path class="lb" d="M3142 920.5H3149.5V950"/>
<path class="lb" d="M3142 920.5H3149.5V967"/>
<path class="lb" d="M3142 920.5H3149.5V984"/>
<path class="lb" d="M3142 920.5H3149.5V1001"/>
<path class="lb" d="M3142 920.5H3149.5V1035"/>
<path class="lb" d="M3342 937.5H3349.5V1018"/>
</g>
<g id="legend">
<text class="m" x="63" y="1174">图例：</text>
<text class="m rd" x="104" y="1174">关键任务</text>
<rect class="rb" x="164.5" y="1165.5" width="28" height="8"/>
<text class="m" x="207" y="1174">一般任务</text>
<rect class="bb" x="266.5" y="1165.5" width="28" height="8"/>
<text class="m rd" x="308" y="1174">关键摘要</text>
<path class="sr" d="M362 1164H405V1168.5L398.5 1177L392 1168.5H375L368.5 1177L362 1168.5Z"/>
<text class="m" x="411" y="1174">一般摘要</text>
<path class="sb" d="M464 1164H507V1168.5L500.5 1177L494 1168.5H477L470.5 1177L464 1168.5Z"/>
<text class="m rd" x="512" y="1174">关键里程碑</text>
<path class="mr" d="M584.5 1165L590 1170.5L584.5 1176L579 1170.5Z"/><path class="mr" d="M584.5 1168L587 1170.5L584.5 1173L582 1170.5Z"/>
<text class="m" x="615" y="1174">一般里程碑</text>
<path class="mb" d="M686.5 1165L692 1170.5L686.5 1176L681 1170.5Z"/><path class="mb" d="M686.5 1168L689 1170.5L686.5 1173L684 1170.5Z"/>
</g>
<g id="info-box">
<path class="k" d="M3500.5 1151V1279M3500.5 1171H3798M3500.5 1188.5H3798M3500.5 1206.5H3798M3500.5 1224.5H3798M3500.5 1242.5H3798M3500.5 1260.5H3798M3560.5 1188.5V1260.5M3650.5 1188.5V1279M3710.5 1188.5V1260.5"/>
<text class="m c" x="3649.5" y="1165.5">海滨大道前期工作计划</text>
<text class="c" x="3649.5" y="1183.5" style="font-family:'Liberation Mono',monospace;font-size:11px">Yili</text>
<text class="m c" x="3530.5" y="1201.5">编制人</text><text class="m c" x="3680.5" y="1201.5">负责人</text>
<text class="m c" x="3530.5" y="1219.5">绘图人</text><text class="m c" x="3680.5" y="1219.5">开始时间</text><text class="c" x="3754" y="1219.5">2014年08月01日</text>
<text class="m c" x="3530.5" y="1237.5">审核人</text><text class="m c" x="3680.5" y="1237.5">结束时间</text><text class="c" x="3754" y="1237.5">2016年05月04日</text>
<text class="m c" x="3530.5" y="1255.5">校对人</text><text class="m c" x="3680.5" y="1255.5">工期</text><text class="c" x="3754" y="1255.5">643天</text>
<text class="m c" x="3575.5" y="1273.5">深圳市政院</text><text class="c" x="3724.5" y="1273.5">2014-08-05</text>
</g>
<rect id="frame" x="50.5" y="91" width="3750" height="1190.5" fill="none" stroke="#000" stroke-width="5"/>
</svg>
